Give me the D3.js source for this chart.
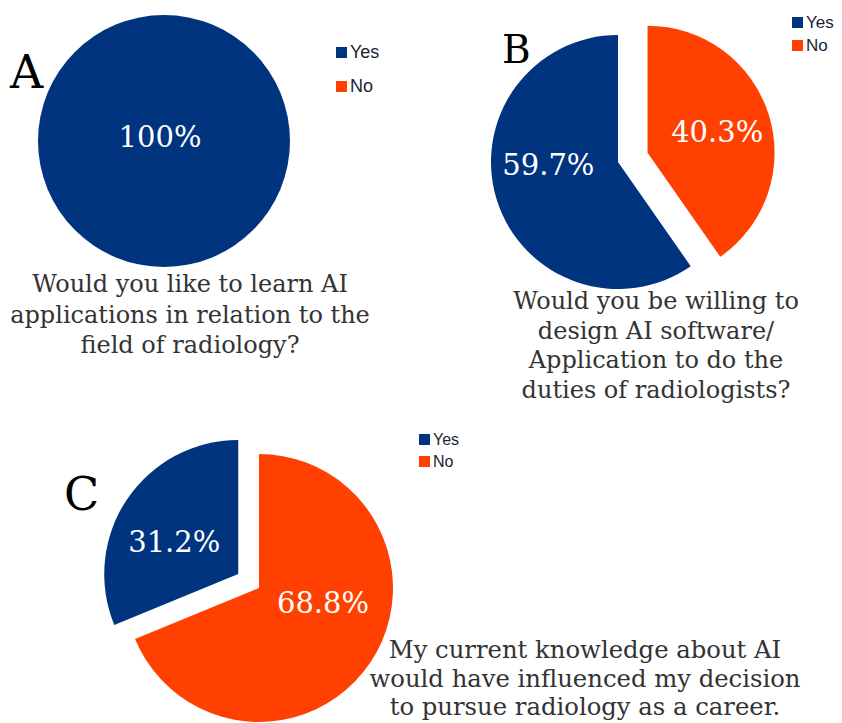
<!DOCTYPE html>
<html>
<head>
<meta charset="utf-8">
<script src="https://cdn.jsdelivr.net/npm/d3@7"></script>
<style>
  body { margin: 0; background: #fff; }
  svg { display: block; }
</style>
</head>
<body>
<svg id="chart"></svg>
<script>
const categories = ["Yes", "No"];
const colors = ["#00347f", "#ff4000"];

const valuesA = [100, 0];
const valuesB = [59.7, 40.3];
const valuesC = [31.2, 68.8];

const panelLetters = ["A", "B", "C"];
const questionA = ["Would you like to learn AI", "applications in relation to the", "field of radiology?"];
const questionB = ["Would you be willing to", "design AI software/", "Application to do the", "duties of radiologists?"];
const questionC = ["My current knowledge about AI", "would have influenced my decision", "to pursue radiology as a career."];

const width = 842;
const height = 723;

const svg = d3.select("#chart").attr("width", width).attr("height", height);

const color = d3.scaleOrdinal().domain(categories).range(colors);

// layout of each panel
const panels = [
  {
    values: valuesA, letter: panelLetters[0], question: questionA,
    cx: 164, cy: 141, r: 126, explode: -1, explodeBy: 0,
    letterPos: [10, 88, 46],
    legend: [336, 47, 34, 18],
    q: [190, 292, 30.5, 24]
  },
  {
    values: valuesB, letter: panelLetters[1], question: questionB,
    cx: 618, cy: 162, r: 127, explode: 1, explodeBy: 31,
    letterPos: [502, 63, 39],
    legend: [792, 17, 23, 17],
    q: [656, 309, 29.5, 24]
  },
  {
    values: valuesC, letter: panelLetters[2], question: questionC,
    cx: 259, cy: 588, r: 134, explode: 0, explodeBy: 25,
    letterPos: [64, 510, 46],
    legend: [419, 434, 22, 16],
    q: [585, 658, 28.5, 24.3]
  }
];

const pie = d3.pie().sort(null).startAngle(0).endAngle(-2 * Math.PI);

panels.forEach((p) => {
  const total = d3.sum(p.values);
  const data = categories.map((c, i) => ({ cat: c, value: p.values[i] }));
  const arcs = pie.value((d) => d.value)(data);
  const arc = d3.arc().innerRadius(0).outerRadius(p.r);
  const labelArc = d3.arc().innerRadius(0).outerRadius(p.r * 1.15);

  const g = svg.append("g").attr("transform", `translate(${p.cx},${p.cy})`);

  const slice = g
    .selectAll("g.slice")
    .data(arcs.filter((d) => d.value > 0))
    .enter()
    .append("g")
    .attr("class", "slice")
    .attr("transform", (d) => {
      if (d.index !== p.explode) return null;
      const mid = (d.startAngle + d.endAngle) / 2;
      return `translate(${Math.sin(mid) * p.explodeBy},${-Math.cos(mid) * p.explodeBy})`;
    });

  slice
    .append("path")
    .attr("d", arc)
    .attr("fill", (d) => color(d.data.cat));

  slice
    .append("text")
    .attr("transform", (d) => {
      // a single full slice gets its label in the middle
      if (d.value === total) return "translate(-4,-4)";
      const [x, y] = labelArc.centroid(d);
      return `translate(${x},${y * 0.55 - 9})`;
    })
    .attr("text-anchor", "middle")
    .attr("dy", "0.35em")
    .attr("fill", "#fff")
    .style("font-family", "'DejaVu Serif', serif")
    .style("font-size", "29px")
    .text((d) => `${Math.round((d.value / total) * 1000) / 10}%`);

  // panel letter
  svg
    .append("text")
    .attr("x", p.letterPos[0])
    .attr("y", p.letterPos[1])
    .style("font-family", "'DejaVu Serif', serif")
    .style("font-size", p.letterPos[2] + "px")
    .attr("fill", "#000")
    .text(p.letter);

  // legend
  const [lx, ly, step, fs] = p.legend;
  const leg = svg
    .selectAll(null)
    .data(categories)
    .enter()
    .append("g")
    .attr("transform", (d, i) => `translate(${lx},${ly + i * step})`);
  leg.append("rect").attr("width", 11).attr("height", 11).attr("fill", (d) => color(d));
  leg
    .append("text")
    .attr("x", 14)
    .attr("y", 11)
    .style("font-family", "'Liberation Sans', Arial, sans-serif")
    .style("font-size", fs + "px")
    .attr("fill", "#1a1f33")
    .text((d) => d);

  // question text
  svg
    .append("text")
    .attr("text-anchor", "middle")
    .style("font-family", "'DejaVu Serif', serif")
    .style("font-size", p.q[3] + "px")
    .attr("fill", "#333")
    .selectAll("tspan")
    .data(p.question)
    .enter()
    .append("tspan")
    .attr("x", p.q[0])
    .attr("y", (d, i) => p.q[1] + i * p.q[2])
    .text((d) => d);
});
</script>
</body>
</html>
